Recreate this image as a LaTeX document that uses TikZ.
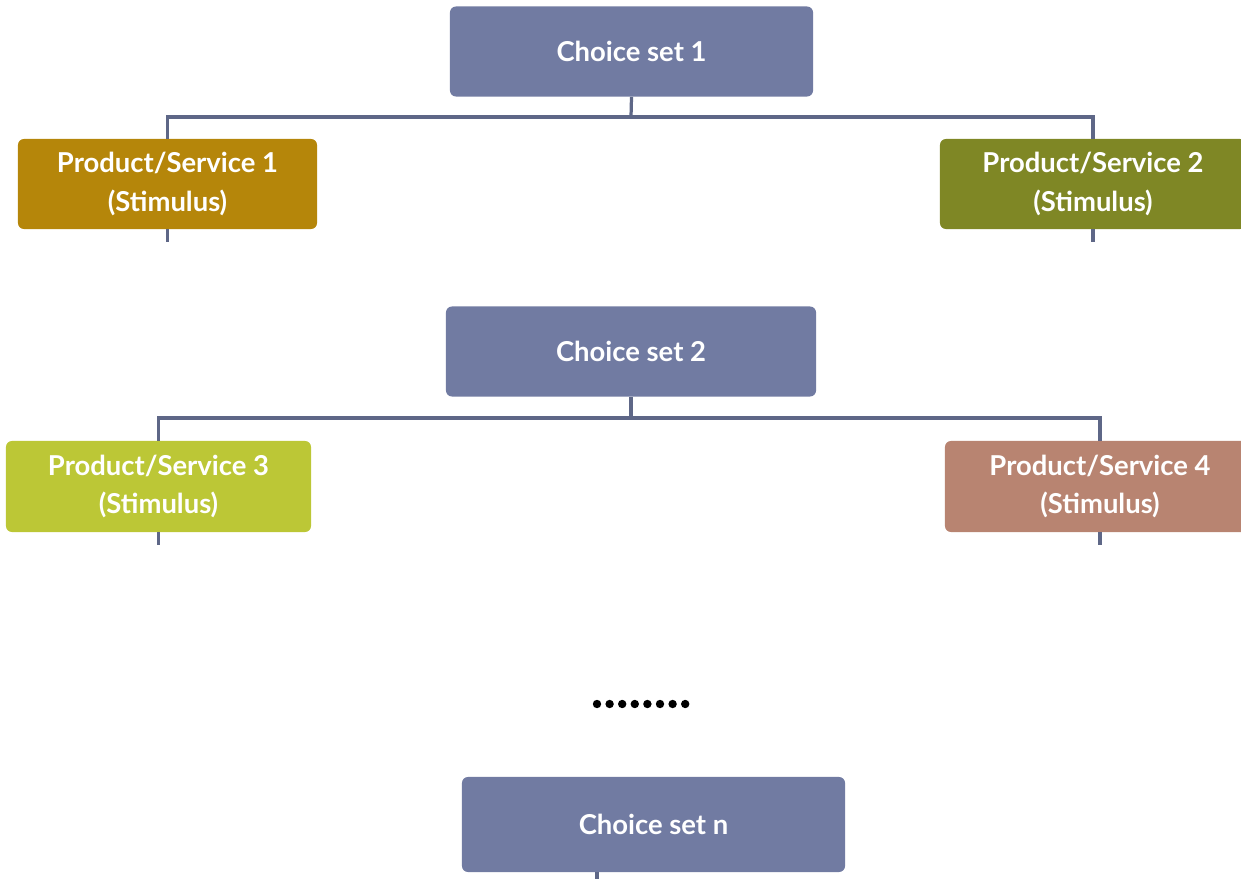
\documentclass[tikz,border=0pt]{standalone}
\usepackage{fontspec}
\setmainfont{Lato}
\usetikzlibrary{positioning}

\definecolor{slate}{RGB}{113,123,162}
\definecolor{gold}{RGB}{181,134,10}
\definecolor{olive}{RGB}{127,135,37}
\definecolor{lime}{RGB}{188,199,54}
\definecolor{rose}{RGB}{184,132,113}
\definecolor{wire}{RGB}{94,103,135}

\begin{document}
\begin{tikzpicture}[x=0.025cm,y=-0.025cm,
    box/.style={rounded corners=0.15cm, text=white, align=center,
      font=\fontsize{19.5}{27.7}\selectfont\bfseries, inner sep=0pt},
    choicebox/.style={box, fill=slate, minimum height=2.25cm},
    link/.style={draw=wire, line width=2.3pt}]
\useasboundingbox (0,0) rectangle (1241,879);

% Draw the choice sets
  \node[choicebox, minimum width=9.075cm] (cs1) at (631.5,51.5) {Choice set 1};
  \node[choicebox, minimum width=9.25cm] (cs2) at (631,351.5) {Choice set 2};
  \node[choicebox, minimum width=9.575cm, minimum height=2.375cm] (csn) at (653.5,824.5) {Choice set n};

% Draw the products
  \node[box, fill=gold, minimum width=7.475cm, minimum height=2.25cm] (ps1) at (167.5,184) {Product/Service 1\\(Stimulus)};
  \node[box, fill=olive, minimum width=7.65cm, minimum height=2.25cm] (ps2) at (1093,184) {Product/Service 2\\(Stimulus)};
  \node[box, fill=lime, minimum width=7.625cm, minimum height=2.275cm] (ps3) at (158.5,486.5) {Product/Service 3\\(Stimulus)};
  \node[box, fill=rose, minimum width=7.75cm, minimum height=2.275cm] (ps4) at (1100,486.5) {Product/Service 4\\(Stimulus)};

% The tree lines
  \coordinate (bus1) at (631,117);
  \coordinate (bus2) at (631,418);
  \draw[link] (cs1.south) -- (bus1);
  \draw[link] (ps1.north) |- (bus1) -| (ps2.north);
  \draw[link] (cs2.south) -- (bus2);
  \draw[link] (ps3.north) |- (bus2) -| (ps4.north);

  \draw[link] (ps1.south) -- ++(0,13) coordinate (ps1end);
  \draw[link] (ps2.south) -- ++(0,13) coordinate (ps2end);
  \draw[link] (ps3.south) -- ++(0,13) coordinate (ps3end);
  \draw[link] (ps4.south) -- ++(0,13) coordinate (ps4end);
  \coordinate (csnend) at (597,879);
  \draw[link] (csnend |- csn.south) -- (csnend);

% the dots
  \foreach \i in {0,...,7}
    \fill (597+12.6*\i,704) circle (4.2);

\end{tikzpicture}
\end{document}
